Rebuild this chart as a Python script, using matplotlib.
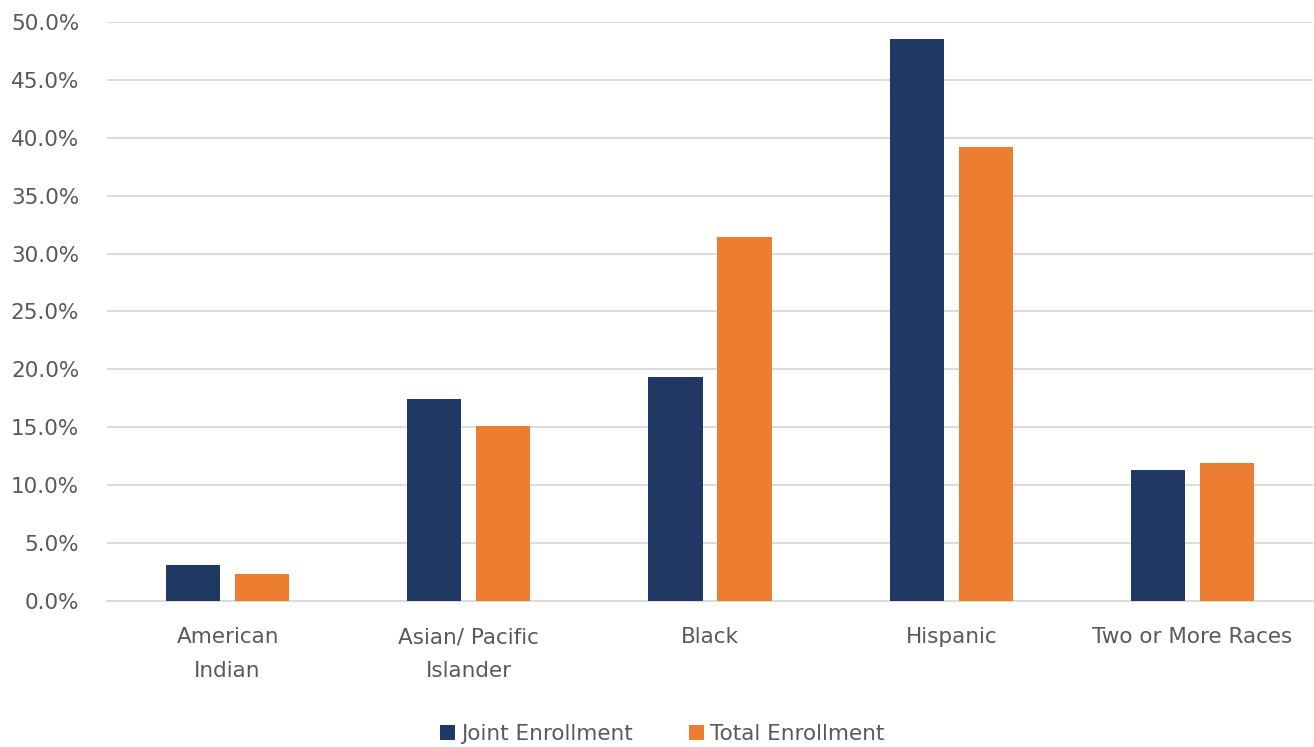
import numpy as np
import matplotlib.pyplot as plt
from matplotlib.ticker import PercentFormatter

categories = ["American\nIndian", "Asian/ Pacific\nIslander", "Black", "Hispanic", "Two or More Races"]
joint_enrollment = [3.1, 17.4, 19.3, 48.5, 11.3]
total_enrollment = [2.3, 15.1, 31.4, 39.2, 11.9]

navy = '#203864'
orange = '#ED7D31'
grid_gray = '#D9D9D9'
text_gray = '#595959'

fig = plt.figure(figsize=(13.14, 7.47), dpi=100)
ax = fig.add_axes([0.0814, 0.1955, 0.918, 0.775])

x = np.arange(len(categories))
width = 0.225
offset = 0.143
ax.bar(x - offset, joint_enrollment, width, color=navy, label='Joint Enrollment', zorder=3)
ax.bar(x + offset, total_enrollment, width, color=orange, label='Total Enrollment', zorder=3)

ax.set_xlim(-0.5, len(categories) - 0.5)
ax.set_ylim(0, 50)
ax.set_yticks(np.arange(0, 50.1, 5))
ax.yaxis.set_major_formatter(PercentFormatter(decimals=1))
ax.grid(axis='y', color=grid_gray, linewidth=1.3, zorder=0)

ax.set_xticks(x, labels=categories)
ax.tick_params(axis='both', length=0, labelsize=15.5, labelcolor=text_gray)
ax.tick_params(axis='y', pad=20)
ax.tick_params(axis='x', pad=19)
for lbl in ax.get_xticklabels():
    lbl.set_linespacing(1.85)

for side in ['top', 'right', 'left']:
    ax.spines[side].set_visible(False)
ax.spines['bottom'].set_color(grid_gray)
ax.spines['bottom'].set_linewidth(1.3)

fig.legend(loc='lower center', bbox_to_anchor=(0.504, -0.022), ncol=2, frameon=False,
           fontsize=15.5, labelcolor=text_gray, handlelength=0.7, handleheight=0.7,
           handletextpad=0.3, columnspacing=2.6)

fig.savefig('out.png', dpi=100)
